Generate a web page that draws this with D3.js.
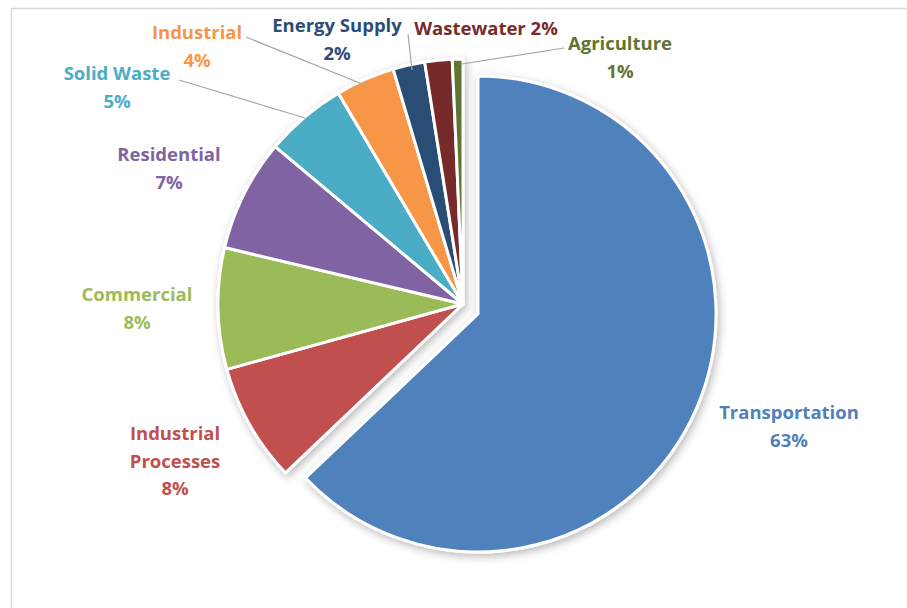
<!DOCTYPE html>
<html><head><meta charset="utf-8">
<script src="https://cdn.jsdelivr.net/npm/d3@7"></script>
<style>
html,body{margin:0;padding:0;background:#fff;}
svg{display:block;}
text{font-family:"Open Sans","Noto Sans",sans-serif;font-weight:bold;}
</style></head>
<body>
<svg id="chart" width="907" height="608"></svg>
<script>
// ---- data ----
const categories = ["Transportation","Industrial Processes","Commercial","Residential","Solid Waste","Industrial","Energy Supply","Wastewater","Agriculture"];
const values = [62.9, 7.8, 8.0, 7.4, 5.4, 3.9, 2.1, 1.8, 0.7];
const colors = ["#4F81BD","#C0504D","#9BBB59","#8064A2","#4BACC6","#F79646","#2C4D75","#772C2A","#5F7530"];

// ---- layout (styles / positions) ----
const W = 907, H = 608;
const center = [463, 304];
const radius = 245;
const explodeIdx = 0;
const explodeOffset = [15, 10];
const explodeRadius = 238;
const labelLayout = [
  {lines:["Transportation","63%"], x:789, y:414},
  {lines:["Industrial","Processes","8%"], x:175, y:435},
  {lines:["Commercial","8%"], x:137, y:296},
  {lines:["Residential","7%"], x:169, y:156},
  {lines:["Solid Waste","5%"], x:117, y:75},
  {lines:["Industrial","4%"], x:197, y:34},
  {lines:["Energy Supply","2%"], x:337, y:27},
  {lines:["Wastewater 2%"], x:486, y:30},
  {lines:["Agriculture","1%"], x:620, y:45}
];
const leaders = [
  null,null,null,null,
  {from:[179,80], to:[305,118]},
  {from:[246,37], to:[367,86]},
  {from:[408,34], to:[412,70]},
  null,
  {from:[564,48], to:[462,64]}
];

const svg = d3.select("#chart");
const defs = svg.append("defs");
const f = defs.append("filter").attr("id","shadow").attr("x","-10%").attr("y","-10%").attr("width","130%").attr("height","130%");
f.append("feDropShadow").attr("dx",2).attr("dy",3).attr("stdDeviation",4).attr("flood-color","#000").attr("flood-opacity",0.28);

// frame
svg.append("rect").attr("x",11.5).attr("y",8.5).attr("width",W+20).attr("height",H+20)
  .attr("fill","#fff").attr("stroke","#d9d9d9").attr("stroke-width",1.5);

const pie = d3.pie().sort(null).value(d=>d)(values);
const arcMain = d3.arc().innerRadius(0).outerRadius(radius);
const arcExp = d3.arc().innerRadius(0).outerRadius(explodeRadius);

const g = svg.append("g").attr("filter","url(#shadow)");
g.selectAll("path").data(pie).join("path")
  .attr("transform",(d,i)=> i===explodeIdx
      ? `translate(${center[0]+explodeOffset[0]},${center[1]+explodeOffset[1]})`
      : `translate(${center[0]},${center[1]})`)
  .attr("d",(d,i)=> i===explodeIdx ? arcExp(d) : arcMain(d))
  .attr("fill",(d,i)=>colors[i])
  .attr("stroke","#fff").attr("stroke-width",3).attr("stroke-linejoin","round");

// leader lines
svg.append("g").selectAll("line").data(leaders.map((l,i)=>({l,i})).filter(d=>d.l)).join("line")
  .attr("x1",d=>d.l.from[0]).attr("y1",d=>d.l.from[1])
  .attr("x2",d=>d.l.to[0]).attr("y2",d=>d.l.to[1])
  .attr("stroke","#a6a6a6").attr("stroke-width",1.2);

// labels
const lg = svg.append("g");
labelLayout.forEach((L,i)=>{
  const t = lg.append("text").attr("x",L.x).attr("y",L.y).attr("text-anchor","middle")
    .attr("fill",colors[i]).attr("font-size",18.5).attr("dominant-baseline","middle");
  L.lines.forEach((s,k)=>{
    t.append("tspan").attr("x",L.x).attr("dy",k===0?0:27.5).text(s);
  });
});
</script>
</body></html>
